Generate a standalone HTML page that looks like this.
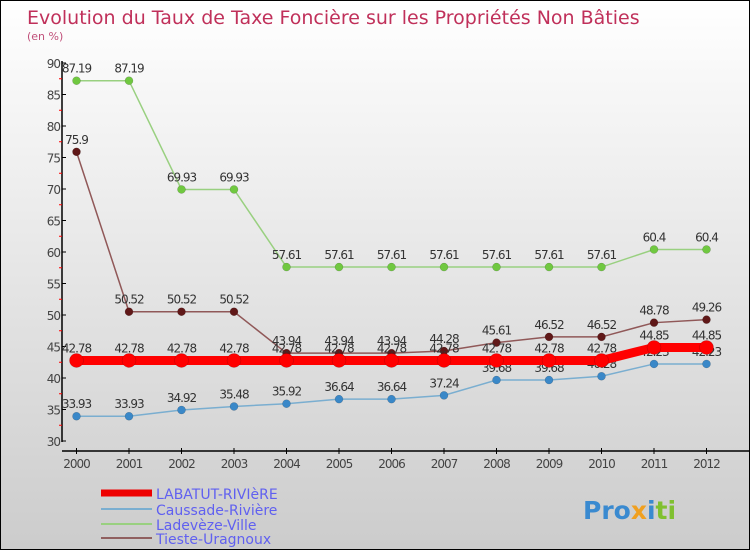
<!DOCTYPE html>
<html><head><meta charset="utf-8"><style>
body{margin:0}
#c{width:748px;height:548px;border:1px solid #000;background:linear-gradient(#fff,#ccc);position:relative;font-family:"DejaVu Sans","Liberation Sans",sans-serif;overflow:hidden}
</style></head><body>
<div id="c">
<svg id="s" width="748" height="548" xmlns="http://www.w3.org/2000/svg">
<text x="26" y="23" font-size="19" fill="#c0305a">Evolution du Taux de Taxe Foncière sur les Propriétés Non Bâties</text>
<text x="26" y="39" font-size="11" fill="#c0507a">(en %)</text>
<g id="axes"></g><g id="series"></g>
<g>
<line x1="100" y1="492" x2="151" y2="492" stroke="#e00" stroke-width="7"/>
<text x="155" y="498" font-size="14" fill="#6060f0">LABATUT-RIVIèRE</text>
<line x1="100" y1="508" x2="151" y2="508" stroke="#7aaed0" stroke-width="2"/>
<text x="155" y="514" font-size="14" fill="#6060f0">Caussade-Rivière</text>
<line x1="100" y1="523" x2="151" y2="523" stroke="#99d080" stroke-width="2"/>
<text x="155" y="529" font-size="14" fill="#6060f0">Ladevèze-Ville</text>
<line x1="100" y1="537" x2="151" y2="537" stroke="#906060" stroke-width="2"/>
<text x="155" y="543" font-size="14" fill="#6060f0">Tieste-Uragnoux</text>
</g>
<text x="582" y="518" font-size="25" font-weight="bold"><tspan fill="#3a8ad0">Pro</tspan><tspan fill="#f0a020">x</tspan><tspan fill="#3a8ad0">i</tspan><tspan fill="#80c030">ti</tspan></text>
</svg></div>
<script>
const years=[2000,2001,2002,2003,2004,2005,2006,2007,2008,2009,2010,2011,2012];
const yTicks=[30,35,40,45,50,55,60,65,70,75,80,85,90];
const labatut=[42.78,42.78,42.78,42.78,42.78,42.78,42.78,42.78,42.78,42.78,42.78,44.85,44.85];
const caussade=[33.93,33.93,34.92,35.48,35.92,36.64,36.64,37.24,39.68,39.68,40.28,42.23,42.23];
const ladeveze=[87.19,87.19,69.93,69.93,57.61,57.61,57.61,57.61,57.61,57.61,57.61,60.4,60.4];
const tieste=[75.9,50.52,50.52,50.52,43.94,43.94,43.94,44.28,45.61,46.52,46.52,48.78,49.26];
const NS="http://www.w3.org/2000/svg";
const xS=i=>75.5+i*52.5, yS=v=>440-(v-30)*(378/60);
function el(t,a,p){const e=document.createElementNS(NS,t);for(const k in a)e.setAttribute(k,a[k]);p.appendChild(e);return e;}
const ax=document.getElementById('axes');
let l=el('line',{x1:61,y1:60,x2:61,y2:441,stroke:'#000','stroke-width':1.5},ax);

l=el('line',{x1:61,y1:450,x2:748,y2:450,stroke:'#000','stroke-width':1.5},ax);

yTicks.forEach((v,i)=>{
 el('line',{x1:61,y1:yS(v),x2:65,y2:yS(v),stroke:'#000'},ax);
 if(i<yTicks.length-1) el('line',{x1:58,y1:yS(v+2.5),x2:61,y2:yS(v+2.5),stroke:'#f00'},ax);
 const t=el('text',{x:59,y:yS(v)+5,'font-size':12,fill:'#444','text-anchor':'end','letter-spacing':'-1'},ax);
 t.textContent=v;
});
years.forEach((y,i)=>{
 el('line',{x1:xS(i),y1:447,x2:xS(i),y2:453,stroke:'#000'},ax);
 const t=el('text',{x:xS(i),y:467,'font-size':12,fill:'#444','text-anchor':'middle','letter-spacing':'-1'},ax);
 t.textContent=y;
});
const sg=document.getElementById('series');
function series(name,vals,color,w,r,pc){
 const g=el('g',{},sg);
 
 el('polyline',{points:vals.map((v,i)=>xS(i)+','+yS(v)).join(' '),fill:'none',stroke:color,'stroke-width':w},g);
 vals.forEach((v,i)=>{
  const c=el('circle',{cx:xS(i),cy:yS(v),r:r,fill:pc,stroke:'rgba(0,0,0,0.25)','stroke-width':0.5},g);
  
  const t=el('text',{x:xS(i),y:yS(v)-8,'font-size':12,fill:'#333','text-anchor':'middle','letter-spacing':'-1'},g);
  t.textContent=v;
 });
}
series('caussade-series',caussade,'#7aaed0',1.5,4,'#3a88c8');
series('ladeveze-series',ladeveze,'#99d080',1.5,4,'#70c840');
series('tieste-series',tieste,'#905858',1.5,4,'#601818');
series('labatut-series',labatut,'#f00',9,7,'#f00');
</script>
</body></html>
